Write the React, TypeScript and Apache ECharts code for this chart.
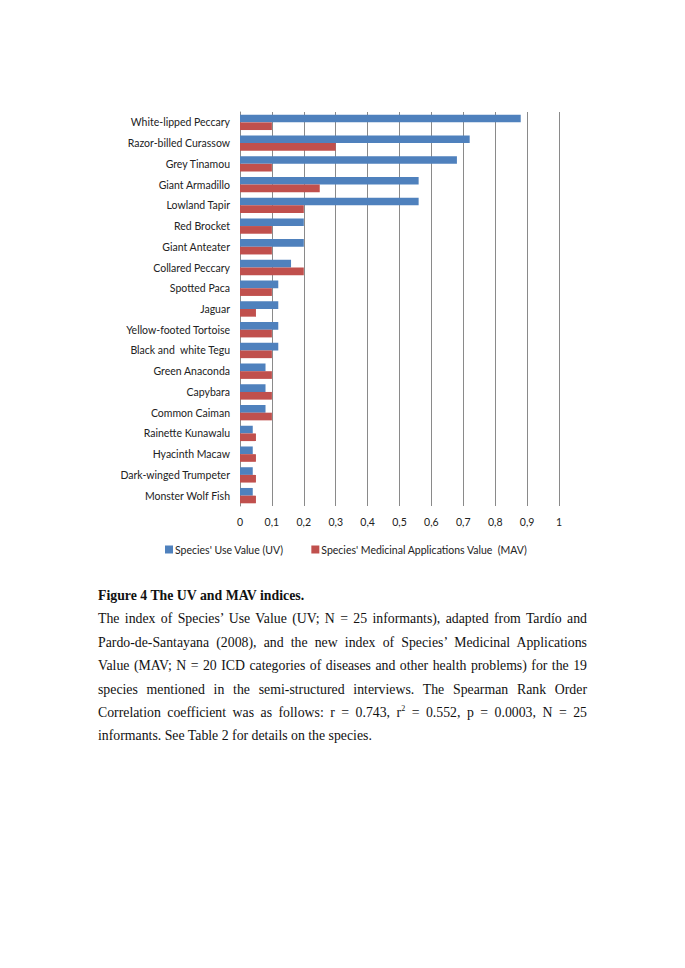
import React, { useEffect, useRef } from "react";
import * as echarts from "echarts";

const categories = [
  "White-lipped Peccary",
  "Razor-billed Curassow",
  "Grey Tinamou",
  "Giant Armadillo",
  "Lowland Tapir",
  "Red Brocket",
  "Giant Anteater",
  "Collared Peccary",
  "Spotted Paca",
  "Jaguar",
  "Yellow-footed Tortoise",
  "Black and  white Tegu",
  "Green Anaconda",
  "Capybara",
  "Common Caiman",
  "Rainette Kunawalu",
  "Hyacinth Macaw",
  "Dark-winged Trumpeter",
  "Monster Wolf Fish",
];

const uvValues = [0.88, 0.72, 0.68, 0.56, 0.56, 0.2, 0.2, 0.16, 0.12, 0.12, 0.12, 0.12, 0.08, 0.08, 0.08, 0.04, 0.04, 0.04, 0.04];
const mavValues = [0.1, 0.3, 0.1, 0.25, 0.2, 0.1, 0.1, 0.2, 0.1, 0.05, 0.1, 0.1, 0.1, 0.1, 0.1, 0.05, 0.05, 0.05, 0.05];

const seriesNames = ["Species' Use Value (UV)", "Species' Medicinal Applications Value  (MAV)"];

const captionTitle = "Figure 4 The UV and MAV indices.";
const captionLines = [
  "The index of Species\u2019 Use Value (UV; N = 25 informants), adapted from Tard\u00edo and",
  "Pardo-de-Santayana (2008), and the new index of Species\u2019 Medicinal Applications",
  "Value (MAV; N = 20 ICD categories of diseases and other health problems) for the 19",
  "species mentioned in the semi-structured interviews. The Spearman Rank Order",
];
const captionLastFull = "informants. See Table 2 for details on the species.";

export default function App() {
  const ref = useRef<HTMLDivElement>(null);

  useEffect(() => {
    if (!ref.current) return;
    const chart = echarts.init(ref.current, undefined, { renderer: "svg" });
    const font = "Lato, 'Open Sans', sans-serif";
    chart.setOption({
      animation: false,
      backgroundColor: "#ffffff",
      grid: { left: 240, right: 126, top: 112, bottom: 462, containLabel: false },
      legend: {
        left: 160,
        top: 539,
        itemWidth: 8,
        itemHeight: 8,
        itemGap: 28,
        icon: "rect",
        textStyle: { fontFamily: font, fontSize: 10.5, color: "#222", padding: [0, 0, 0, -3] },
        data: seriesNames,
      },
      xAxis: {
        type: "value",
        min: 0,
        max: 1,
        interval: 0.1,
        axisLine: { show: false },
        axisTick: { show: false },
        axisLabel: {
          fontFamily: font,
          fontSize: 10.5,
          color: "#222",
          margin: 10,
          formatter: (v: number) => String(Math.round(v * 10) / 10).replace(".", ","),
        },
        splitLine: { show: true, lineStyle: { color: "#8a8a8a", width: 1 } },
      },
      yAxis: {
        type: "category",
        inverse: true,
        data: categories,
        axisLine: { show: true, lineStyle: { color: "#8a8a8a", width: 1 } },
        axisTick: { show: false },
        axisLabel: { fontFamily: font, fontSize: 10.5, color: "#222", margin: 10 },
      },
      series: [
        {
          name: seriesNames[0],
          type: "bar",
          data: uvValues,
          barGap: "0%",
          barCategoryGap: "26%",
          itemStyle: { color: "#4F81BD" },
        },
        {
          name: seriesNames[1],
          type: "bar",
          data: mavValues,
          barGap: "0%",
          barCategoryGap: "26%",
          itemStyle: { color: "#C0504D" },
        },
      ],
    });
    return () => chart.dispose();
  }, []);

  const lineStyle: React.CSSProperties = {
    textAlign: "justify",
    textAlignLast: "justify" as any,
    whiteSpace: "nowrap",
    height: 23.4,
  };

  return (
    <div style={{ position: "absolute", left: 0, top: 0, width: 685, height: 968, background: "#fff" }}>
      <div ref={ref} style={{ position: "absolute", left: 0, top: 0, width: 685, height: 968 }} />
      <div
        style={{
          position: "absolute",
          left: 98,
          top: 584,
          width: 489,
          fontFamily: "'Liberation Serif', 'Times New Roman', serif",
          fontSize: 13.8,
          lineHeight: "23.4px",
          color: "#111",
        }}
      >
        <div style={{ fontWeight: "bold", height: 23.4 }}>{captionTitle}</div>
        {captionLines.map((l, i) => (
          <div key={i} style={{ ...lineStyle, whiteSpace: "normal" }}>{l}</div>
        ))}
        <div style={{ ...lineStyle, whiteSpace: "normal" }}>
          Correlation coefficient was as follows: r = 0.743, r<sup style={{ fontSize: 8, lineHeight: 0 }}>2</sup> = 0.552, p = 0.0003, N = 25
        </div>
        <div style={{ height: 23.4 }}>{captionLastFull}</div>
      </div>
    </div>
  );
}
